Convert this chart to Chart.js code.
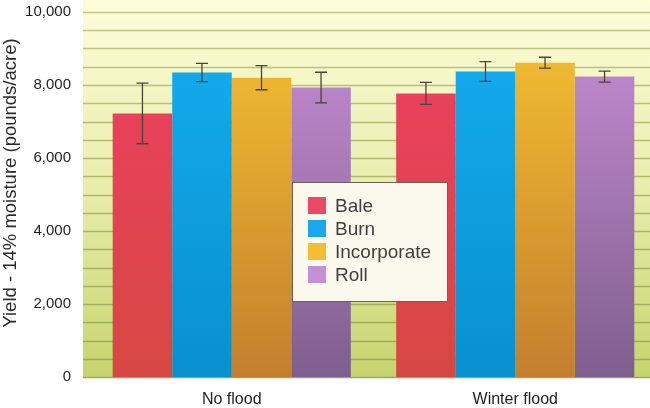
<!DOCTYPE html>
<html>
<head>
<meta charset="utf-8">
<script src="https://cdn.jsdelivr.net/npm/chart.js@4"></script>
<style>
  html, body { margin: 0; padding: 0; background: #ffffff; }
  /* The original figure is cropped a few pixels short on the right. */
  #wrap { width: 650px; height: 408px; overflow: hidden; position: relative; }
  #inner { width: 657px; height: 408px; position: absolute; left: 0; top: 0; }
</style>
</head>
<body>
<div id="wrap"><div id="inner"><canvas id="yieldChart"></canvas></div></div>
<script>
'use strict';

// Chart data.
const categories = ['No flood', 'Winter flood'];
const seriesNames = ['Bale', 'Burn', 'Incorporate', 'Roll'];
const baleValues = [7220, 7770];
const burnValues = [8340, 8370];
const incorporateValues = [8200, 8610];
const rollValues = [7930, 8230];
const baleErrors = [830, 300];
const burnErrors = [250, 270];
const incorporateErrors = [330, 150];
const rollErrors = [420, 150];
const yTickLabels = [0, 2000, 4000, 6000, 8000, 10000];
const yTitle = 'Yield - 14% moisture (pounds/acre)';

// Colours: top and bottom of each bar's shading, plus the flat legend swatch.
const topColors = ['#ef3e64', '#16aef0', '#f5c232', '#c98ed6'];
const bottomColors = ['#d64842', '#0890cf', '#c47f2e', '#7e5f8e'];
const swatchColors = ['#ea4a68', '#1aa8ec', '#f4be34', '#c690d6'];

const fontFamily = '"Liberation Sans", Arial, Helvetica, sans-serif';

function barGradient(i) {
  return function(context) {
    const area = context.chart.chartArea;
    if (!area) {
      return topColors[i];
    }
    const g = context.chart.ctx.createLinearGradient(0, area.top, 0, area.bottom);
    g.addColorStop(0, topColors[i]);
    g.addColorStop(1, bottomColors[i]);
    return g;
  };
}

const allValues = [baleValues, burnValues, incorporateValues, rollValues];
const allErrors = [baleErrors, burnErrors, incorporateErrors, rollErrors];

let datasets = [];
for (let i = 0; i < seriesNames.length; i++) {
  datasets.push({
    label: seriesNames[i],
    data: allValues[i],
    errors: allErrors[i],
    backgroundColor: barGradient(i),
    borderWidth: 0,
  });
}

// Plot background (pale yellow to yellow-green) plus the ruled grid lines,
// which start a little left of the first category band as in the original.
const backgroundPlugin = {
  id: 'plotBackground',
  beforeDatasetsDraw(chart) {
    const { ctx, chartArea } = chart;
    const yScale = chart.scales.y;
    const left = chartArea.left - 7;
    const g = ctx.createLinearGradient(0, 0, 0, chartArea.bottom);
    g.addColorStop(0, '#fdfdda');
    g.addColorStop(0.5, '#e8edab');
    g.addColorStop(1, '#c6d46e');
    ctx.save();
    ctx.fillStyle = g;
    ctx.fillRect(left, 0, chartArea.right - left, chartArea.bottom);

    const lineGrad = ctx.createLinearGradient(0, chartArea.top, 0, chartArea.bottom);
    lineGrad.addColorStop(0, '#c4c486');
    lineGrad.addColorStop(1, '#98aa52');
    ctx.strokeStyle = lineGrad;
    ctx.lineWidth = 1.3;
    yScale.ticks.forEach(function(t) {
      const y = Math.round(yScale.getPixelForValue(t.value)) + 0.5;
      ctx.beginPath();
      ctx.moveTo(left, y);
      ctx.lineTo(chartArea.right, y);
      ctx.stroke();
    });
    ctx.restore();
  }
};

// Error bars drawn on top of each bar.
const errorBarPlugin = {
  id: 'errorBars',
  afterDatasetsDraw(chart) {
    const ctx = chart.ctx;
    const yScale = chart.scales.y;
    ctx.save();
    ctx.strokeStyle = '#4a4438';
    ctx.lineWidth = 1.3;
    chart.data.datasets.forEach(function(ds, i) {
      const meta = chart.getDatasetMeta(i);
      meta.data.forEach(function(bar, j) {
        const hi = yScale.getPixelForValue(ds.data[j] + ds.errors[j]);
        const lo = yScale.getPixelForValue(ds.data[j] - ds.errors[j]);
        ctx.beginPath();
        ctx.moveTo(bar.x, hi);
        ctx.lineTo(bar.x, lo);
        ctx.moveTo(bar.x - 6, hi);
        ctx.lineTo(bar.x + 6, hi);
        ctx.moveTo(bar.x - 6, lo);
        ctx.lineTo(bar.x + 6, lo);
        ctx.stroke();
      });
    });
    ctx.restore();
  }
};

// Y axis title: in the original it sits a bit above the plot's centre.
const yTitlePlugin = {
  id: 'yTitle',
  afterDraw(chart) {
    const ctx = chart.ctx;
    ctx.save();
    ctx.translate(11, 183);
    ctx.rotate(-Math.PI / 2);
    ctx.font = '18.5px ' + fontFamily;
    ctx.fillStyle = '#2a2a2a';
    ctx.textAlign = 'center';
    ctx.textBaseline = 'middle';
    ctx.fillText(yTitle, 0, 0);
    ctx.restore();
  }
};

// Boxed legend sitting in the middle of the plot.
const boxLegendPlugin = {
  id: 'boxLegend',
  afterDraw(chart) {
    const { ctx, chartArea } = chart;
    const w = chartArea.right - chartArea.left;
    const h = chartArea.bottom - chartArea.top;
    const x = Math.round(chartArea.left + w * 0.356);
    const y = Math.round(chartArea.top + h * 0.466);
    ctx.save();
    ctx.fillStyle = '#fbf9ee';
    ctx.fillRect(x, y, 155, 119);
    ctx.strokeStyle = '#6a6450';
    ctx.lineWidth = 1;
    ctx.strokeRect(x + 0.5, y + 0.5, 155, 119);
    ctx.font = '19px ' + fontFamily;
    ctx.textBaseline = 'middle';
    for (let i = 0; i < seriesNames.length; i++) {
      const cy = y + 24 + i * 23;
      ctx.fillStyle = swatchColors[i];
      ctx.fillRect(x + 16, cy - 9, 18, 17);
      ctx.fillStyle = '#404040';
      ctx.fillText(seriesNames[i], x + 43, cy + 1);
    }
    ctx.restore();
  }
};

const config = {
  type: 'bar',
  data: {
    labels: categories,
    datasets: datasets,
  },
  plugins: [backgroundPlugin, errorBarPlugin, yTitlePlugin, boxLegendPlugin],
  options: {
    responsive: true,
    maintainAspectRatio: false,
    animation: false,
    layout: { padding: 0 },
    datasets: {
      bar: { categoryPercentage: 0.84, barPercentage: 1.0 },
    },
    plugins: {
      legend: { display: false },
      tooltip: { enabled: false },
    },
    scales: {
      x: {
        grid: { display: false, drawTicks: false },
        border: { display: false },
        ticks: {
          color: '#1e1e1e',
          padding: 13,
          font: { family: fontFamily, size: 16 },
        },
        afterFit(scale) { scale.height = 31; },
      },
      y: {
        min: 0,
        max: 10000,
        border: { display: false },
        grid: { display: false, drawTicks: false },
        ticks: {
          stepSize: 500,
          autoSkip: false,
          maxTicksLimit: 30,
          padding: 19,
          color: '#1e1e1e',
          font: { family: fontFamily, size: 15 },
          callback: function(value) {
            return yTickLabels.includes(value) ? value.toLocaleString('en-US') : '';
          },
        },
        afterFit(scale) {
          scale.width = 90;
          scale.paddingTop = 12;
          scale.paddingBottom = 0;
        },
      },
    },
  },
};

const chartCanvas = document.getElementById('yieldChart');
const yieldChart = new Chart(chartCanvas, config);
</script>
</body>
</html>
